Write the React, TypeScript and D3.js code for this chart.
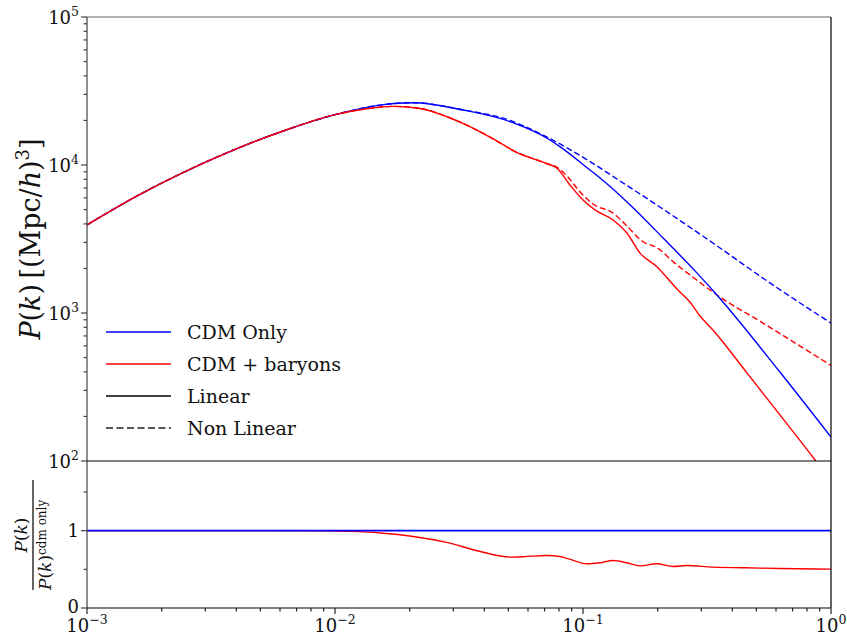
import React, { useEffect, useRef } from 'react';
import * as d3 from 'd3';

// shared low-k part of every spectrum (k in h/Mpc, P in (Mpc/h)^3)
const kShared = [0.001, 0.00158, 0.00251, 0.00398, 0.00631, 0.01];
const pShared = [3940, 6140, 9100, 12820, 17180, 21880];

// CDM only, linear
const kCdmLin = [0.0152, 0.0207, 0.0328, 0.0508, 0.0736, 0.0807, 0.1067, 0.1172, 0.155, 0.2104, 0.2884, 0.3467, 0.6223, 1.0];
const pCdmLin = [25400, 26370, 23550, 19630, 14760, 13300, 9250, 8170, 5370, 3210, 1860, 1324, 399, 145];

// CDM only, non linear
const kCdmNL = [0.0152, 0.0207, 0.0328, 0.0508, 0.0671, 0.0845, 0.1067, 0.1371, 0.2042, 0.334, 0.5675, 1.0];
const pCdmNL = [25400, 26370, 23600, 20000, 16300, 13300, 10550, 8040, 5200, 2970, 1596, 855];

// CDM + baryons, linear
const kBarLin = [0.01297, 0.01714, 0.02203, 0.02831, 0.03597, 0.04498, 0.0542, 0.0653, 0.0716, 0.0786, 0.0887, 0.1, 0.1117, 0.1321, 0.1503, 0.1698, 0.1986, 0.2393, 0.2698, 0.2965, 0.3342, 0.4581, 0.6223, 0.861, 1.0];
const pBarLin = [23800, 24900, 24100, 21180, 17780, 14520, 12140, 10810, 10200, 9500, 7300, 5800, 4970, 4250, 3470, 2540, 2056, 1452, 1186, 955, 767, 394, 205, 102, 73];

// CDM + baryons, non linear (after it leaves the linear curve)
const kBarNL = [0.0786, 0.0861, 0.0973, 0.1097, 0.1321, 0.1503, 0.1746, 0.1986, 0.2339, 0.2698, 0.3467, 0.532, 1.0];
const pBarNL = [9650, 8430, 6580, 5450, 4740, 3870, 3030, 2770, 2180, 1810, 1324, 855, 442];

// ratio panel
const kRatio = [0.001, 0.005, 0.0085, 0.0115, 0.0152, 0.0207, 0.0282, 0.0385, 0.0508, 0.0575, 0.0714, 0.0807, 0.0875, 0.1035, 0.117, 0.1324, 0.15, 0.1698, 0.198, 0.231, 0.262, 0.335, 0.45, 0.622, 1.0];
const rRatio = [1.0, 1.0, 0.998, 0.99, 0.97, 0.925, 0.848, 0.731, 0.658, 0.663, 0.679, 0.665, 0.635, 0.571, 0.585, 0.614, 0.585, 0.545, 0.571, 0.537, 0.55, 0.528, 0.52, 0.51, 0.503];

const legendLabels = ['CDM Only', 'CDM + baryons', 'Linear', 'Non Linear'];
const topDecades = [2, 3, 4, 5];
const xDecades = [-3, -2, -1, 0];

const FONT = 'DejaVu Serif, Liberation Serif, serif';

type Pt = { k: number; p: number };
const zipPts = (ks: number[], ps: number[]): Pt[] => ks.map((k, i) => ({ k, p: ps[i] }));

const App: React.FC = () => {
  const svgRef = useRef<SVGSVGElement>(null);

  useEffect(() => {
    if (!svgRef.current) return;
    const svg = d3.select(svgRef.current);
    svg.selectAll('*').remove();

    const left = 87, right = 831, top = 17, mid = 461, bottom = 608;

    const x = d3.scaleLog().domain([1e-3, 1]).range([left, right]);
    const yTop = d3.scaleLog().domain([1e2, 1e5]).range([mid, top]);
    const yBot = d3.scaleLinear().domain([0, 1.9]).range([bottom, mid]);

    svg.append('clipPath').attr('id', 'clipTop')
      .append('rect').attr('x', left).attr('y', top).attr('width', right - left).attr('height', mid - top);

    const shared = zipPts(kShared, pShared);
    const cdmLin = shared.concat(zipPts(kCdmLin, pCdmLin));
    const cdmNL = shared.concat(zipPts(kCdmNL, pCdmNL));
    const barLinTail = zipPts(kBarLin, pBarLin);
    const barLin = shared.concat(barLinTail);
    const barNL = shared.concat(barLinTail.filter(d => d.k < 0.075), zipPts(kBarNL, pBarNL));

    const line = d3.line<Pt>()
      .x(d => x(d.k))
      .y(d => yTop(d.p))
      .curve(d3.curveMonotoneX);

    const g = svg.append('g').attr('clip-path', 'url(#clipTop)');
    const series: [Pt[], string, boolean][] = [
      [cdmNL, '#0000ff', true],
      [barNL, '#ff0000', true],
      [cdmLin, '#0000ff', false],
      [barLin, '#ff0000', false],
    ];
    series.forEach(([data, color, dashed]) => {
      g.append('path')
        .datum(data)
        .attr('fill', 'none')
        .attr('stroke', color)
        .attr('stroke-width', 1.4)
        .attr('stroke-dasharray', dashed ? '6,3' : null)
        .attr('d', line);
    });

    // ratio panel
    const rLine = d3.line<[number, number]>()
      .x(d => x(d[0]))
      .y(d => yBot(d[1]))
      .curve(d3.curveMonotoneX);
    svg.append('path')
      .datum(kRatio.map((k, i) => [k, rRatio[i]] as [number, number]))
      .attr('fill', 'none').attr('stroke', '#ff0000').attr('stroke-width', 1.4)
      .attr('d', rLine);
    svg.append('path')
      .datum([[1e-3, 1], [1, 1]] as [number, number][])
      .attr('fill', 'none').attr('stroke', '#0000ff').attr('stroke-width', 1.6)
      .attr('d', rLine);

    // spines
    const spine = (x1: number, y1: number, x2: number, y2: number, c: string) =>
      svg.append('line').attr('x1', x1).attr('y1', y1).attr('x2', x2).attr('y2', y2)
        .attr('stroke', c).attr('stroke-width', 1.2);
    spine(left, top, right, top, '#666');
    spine(left, top, left, bottom, '#444');
    spine(right, top, right, bottom, '#000');
    spine(left, mid, right, mid, '#000');
    spine(left, bottom, right, bottom, '#000');

    // y ticks top panel
    topDecades.forEach(d => {
      const v = Math.pow(10, d);
      spine(left - 6, yTop(v), left, yTop(v), '#444');
      if (d < 5) {
        for (let m = 2; m <= 9; m++) {
          const yy = yTop(m * v);
          spine(left - 3.5, yy, left, yy, '#444');
        }
      }
      const t = svg.append('text')
        .attr('x', 79).attr('y', yTop(v) + 7)
        .attr('text-anchor', 'end')
        .attr('font-family', FONT).attr('font-size', 18).attr('fill', '#111');
      t.append('tspan').text('10');
      t.append('tspan').attr('dy', -8).attr('font-size', 12.5).text(String(d));
    });

    // y ticks ratio panel
    [0, 0.5, 1, 1.5].forEach(v => {
      const major = v === 0 || v === 1;
      spine(left - (major ? 6 : 3.5), yBot(v), left, yBot(v), '#444');
      if (major) {
        svg.append('text')
          .attr('x', 79).attr('y', yBot(v) + (v === 0 ? 5 : 6.5))
          .attr('text-anchor', 'end')
          .attr('font-family', FONT).attr('font-size', 18).attr('fill', '#111')
          .text(String(v));
      }
    });

    // x ticks
    xDecades.forEach(d => {
      const v = Math.pow(10, d);
      spine(x(v), bottom, x(v), bottom + 6, '#222');
      if (d < 0) {
        for (let m = 2; m <= 9; m++) {
          spine(x(m * v), bottom, x(m * v), bottom + 3.5, '#222');
        }
      }
      const t = svg.append('text')
        .attr('x', x(v)).attr('y', 632)
        .attr('text-anchor', 'middle')
        .attr('font-family', FONT).attr('font-size', 18).attr('fill', '#111');
      t.append('tspan').text('10');
      t.append('tspan').attr('dy', -8).attr('font-size', 12.5).text(d === 0 ? '0' : '\u2212' + Math.abs(d));
    });

    // y label top
    const yl = svg.append('text')
      .attr('transform', `translate(40,${(top + mid) / 2}) rotate(-90)`)
      .attr('text-anchor', 'middle')
      .attr('font-family', FONT).attr('font-size', 27).attr('fill', '#111');
    yl.append('tspan').attr('font-style', 'italic').text('P');
    yl.append('tspan').text('(');
    yl.append('tspan').attr('font-style', 'italic').text('k');
    yl.append('tspan').text(')\u2009[(Mpc/');
    yl.append('tspan').attr('font-style', 'italic').text('h');
    yl.append('tspan').text(')');
    yl.append('tspan').attr('dy', -11).attr('font-size', 18).text('3');
    yl.append('tspan').attr('dy', 11).text(']');

    // y label ratio (fraction)
    const fr = svg.append('g').attr('transform', `translate(33,535) rotate(-90)`)
      .attr('font-family', FONT).attr('fill', '#111');
    const num = fr.append('text').attr('x', 0).attr('y', -6).attr('text-anchor', 'middle').attr('font-size', 17);
    num.append('tspan').attr('font-style', 'italic').text('P');
    num.append('tspan').text('(');
    num.append('tspan').attr('font-style', 'italic').text('k');
    num.append('tspan').text(')');
    fr.append('line').attr('x1', -55).attr('x2', 55).attr('y1', 0).attr('y2', 0)
      .attr('stroke', '#111').attr('stroke-width', 1.3);
    const den = fr.append('text').attr('x', -55).attr('y', 18).attr('font-size', 17);
    den.append('tspan').attr('font-style', 'italic').text('P');
    den.append('tspan').text('(');
    den.append('tspan').attr('font-style', 'italic').text('k');
    den.append('tspan').text(')');
    den.append('tspan').attr('dy', -5).attr('font-size', 12).text('cdm only');

    // legend
    const legendStyles: [string, boolean][] = [['#0000ff', false], ['#ff0000', false], ['#000', false], ['#222', true]];
    const ly = [332, 364, 396, 428];
    legendLabels.forEach((lab, i) => {
      const [c, dashed] = legendStyles[i];
      svg.append('line')
        .attr('x1', 106).attr('x2', 171).attr('y1', ly[i]).attr('y2', ly[i])
        .attr('stroke', c).attr('stroke-width', 1.5)
        .attr('stroke-dasharray', dashed ? '7,3.5' : null);
      svg.append('text')
        .attr('x', 187).attr('y', ly[i] + 6.5)
        .attr('font-family', FONT).attr('font-size', 19).attr('fill', '#111')
        .text(lab);
    });
  }, []);

  return (
    <svg ref={svgRef} width={847} height={635}
      style={{ position: 'absolute', left: 0, top: 0, background: '#fff' }} />
  );
};

export default App;
